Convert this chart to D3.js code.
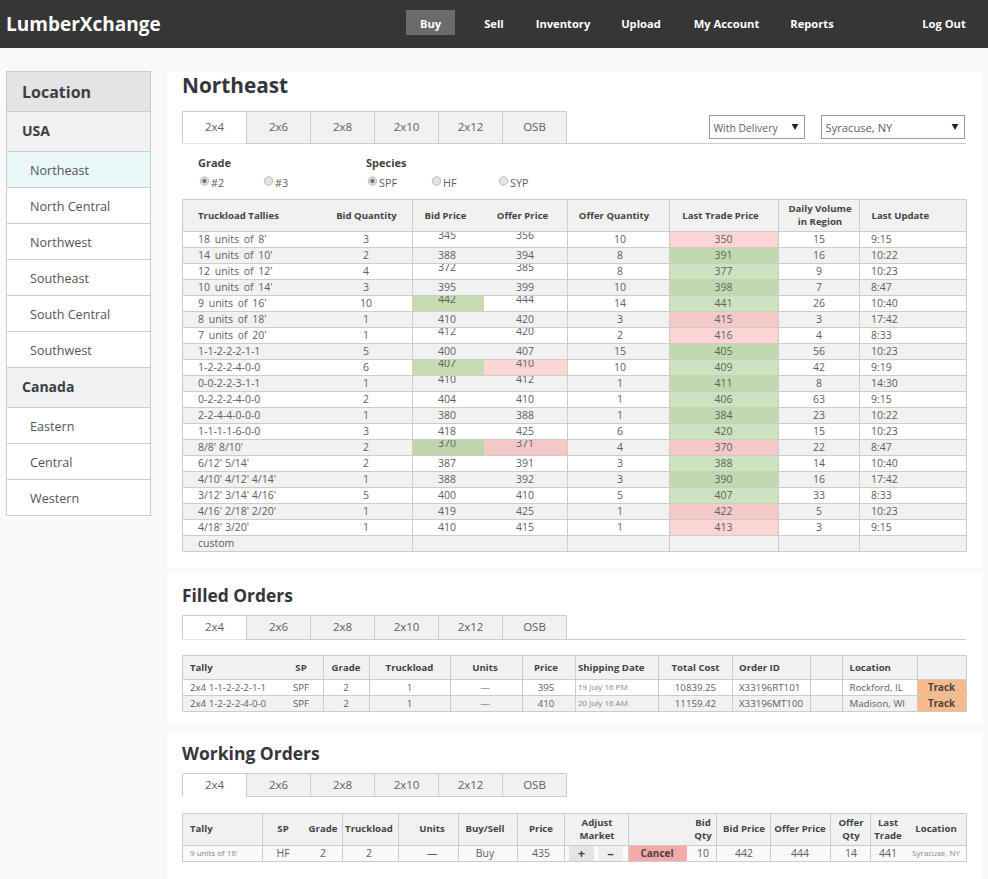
<!DOCTYPE html>
<html>
<head>
<meta charset="utf-8">
<title>LumberXchange</title>
<script src="https://cdn.jsdelivr.net/npm/d3@7"></script>
<style>
  html, body { margin: 0; padding: 0; background: #f9f9f9; overflow: hidden; }
  svg { display: block; font-family: "Open Sans", sans-serif; }
  text { fill: #606060; }
  .hd { font-size: 9.6px; font-weight: 700; fill: #444; }
  .cell { font-size: 10.5px; }
  .fcell { font-size: 9.7px; }
</style>
</head>
<body>
<div id="page"></div>
<script>
// nav + sidebar
const navItems = ["Buy", "Sell", "Inventory", "Upload", "My Account", "Reports", "Log Out"];
const sideItems = ["Location", "USA", "Northeast", "North Central", "Northwest", "Southeast", "South Central", "Southwest", "Canada", "Eastern", "Central", "Western"];
const sideKinds = ["top", "group", "sel", "item", "item", "item", "item", "item", "group", "item", "item", "item"];
const tabNames = ["2x4", "2x6", "2x8", "2x10", "2x12", "OSB"];

// Northeast table
const tallies = ["18 units of 8'", "14 units of 10'", "12 units of 12'", "10 units of 14'", "9 units of 16'", "8 units of 18'", "7 units of 20'", "1-1-2-2-2-1-1", "1-2-2-2-4-0-0", "0-0-2-2-3-1-1", "0-2-2-2-4-0-0", "2-2-4-4-0-0-0", "1-1-1-1-6-0-0", "8/8' 8/10'", "6/12' 5/14'", "4/10' 4/12' 4/14'", "3/12' 3/14' 4/16'", "4/16' 2/18' 2/20'", "4/18' 3/20'", "custom"];
const bidQty = [3, 2, 4, 3, 10, 1, 1, 5, 6, 1, 2, 1, 3, 2, 2, 1, 5, 1, 1, null];
const bidPrice = [345, 388, 372, 395, 442, 410, 412, 400, 407, 410, 404, 380, 418, 370, 387, 388, 400, 419, 410, null];
const offerPrice = [356, 394, 385, 399, 444, 420, 420, 407, 410, 412, 410, 388, 425, 371, 391, 392, 410, 425, 415, null];
const offerQty = [10, 8, 8, 10, 14, 3, 2, 15, 10, 1, 1, 1, 6, 4, 3, 3, 5, 1, 1, null];
const lastTrade = [350, 391, 377, 398, 441, 415, 416, 405, 409, 411, 406, 384, 420, 370, 388, 390, 407, 422, 413, null];
const lastMove = ["d", "u", "u", "u", "u", "d", "d", "u", "u", "u", "u", "u", "u", "d", "u", "u", "u", "d", "d", null];
const dailyVolume = [15, 16, 9, 7, 26, 3, 4, 56, 42, 8, 63, 23, 15, 22, 14, 16, 33, 5, 3, null];
const lastUpdate = ["9:15", "10:22", "10:23", "8:47", "10:40", "17:42", "8:33", "10:23", "9:19", "14:30", "9:15", "10:22", "10:23", "8:47", "10:40", "17:42", "8:33", "10:23", "9:15", null];
const bidHighlightRows = [4, 8, 13];
const offerHighlightRows = [8, 13];
const raisedPriceRows = [0, 2, 4, 6, 8, 9, 13];

// Filled orders
const filledTally = ["2x4 1-1-2-2-2-1-1", "2x4 1-2-2-2-4-0-0"];
const filledSp = ["SPF", "SPF"];
const filledGrade = [2, 2];
const filledTruckload = [1, 1];
const filledUnits = ["—", "—"];
const filledPrice = [395, 410];
const filledShip = ["19 July 16 PM", "20 July 16 AM"];
const filledCost = ["10839.25", "11159.42"];
const filledId = ["X33196RT101", "X33196MT100"];
const filledLoc = ["Rockford, IL", "Madison, WI"];

// Working orders
const workRow = ["9 units of 16'", "HF", "2", "2", "—", "Buy", "435", "", "", "10", "442", "444", "14", "441", "Syracuse, NY"];
const workHeads = [["Tally"], ["SP"], ["Grade"], ["Truckload"], ["Units"], ["Buy/Sell"], ["Price"], ["Adjust", "Market"], [""], ["Bid", "Qty"], ["Bid Price"], ["Offer Price"], ["Offer", "Qty"], ["Last", "Trade"], ["Location"]];

const width = 988, height = 879;
const lineCol = "#cccccc", headBg = "#f1f1f1", altBg = "#f1f1f1";

var svg = d3.select("#page").append("svg").attr("width", width).attr("height", height);
svg.append("rect").attr("width", width).attr("height", height).attr("fill", "#f9f9f9");

function put(g, x, y, str, opts) {
    opts = opts || {};
    return g.append("text")
        .attr("x", x)
        .attr("y", y)
        .attr("dy", "0.35em")
        .attr("text-anchor", opts.anchor || "start")
        .attr("class", opts.cls || null)
        .style("font-size", opts.size ? opts.size + "px" : null)
        .style("font-weight", opts.weight || null)
        .style("fill", opts.fill || null)
        .text(str);
}

function hline(g, x1, x2, y) {
    g.append("line").attr("x1", x1).attr("x2", x2).attr("y1", y).attr("y2", y).attr("stroke", lineCol);
}
function vline(g, x, y1, y2) {
    g.append("line").attr("x1", x).attr("x2", x).attr("y1", y1).attr("y2", y2).attr("stroke", lineCol);
}

// ---- top bar ----
var topBar = svg.append("g");
topBar.append("rect").attr("width", width).attr("height", 48).attr("fill", "#363636");
put(topBar, 6, 24, "LumberXchange", {size: 19, weight: 700, fill: "#fff"});
topBar.append("rect").attr("x", 406).attr("y", 10).attr("width", 49).attr("height", 25).attr("fill", "#6b6b6b");
var navX = d3.scaleOrdinal().domain(navItems).range([430.5, 494, 563, 641, 726.5, 812, 944]);
navItems.forEach(function(d) {
    put(topBar, navX(d), 23.6, d, {anchor: "middle", size: 11.2, weight: 700, fill: "#fff"});
});

// ---- sidebar ----
var side = svg.append("g");
var sideHeights = {top: 40, group: 40, sel: 36, item: 36};
var sideFill = {top: "#e4e4e4", group: "#f1f1f1", sel: "#e9f7f9", item: "#fff"};
var sy = 71;
sideItems.forEach(function(d, i) {
    var kind = sideKinds[i], h = sideHeights[kind];
    side.append("rect").attr("x", 6.5).attr("y", sy + 0.5).attr("width", 144).attr("height", h)
        .attr("fill", sideFill[kind]).attr("stroke", lineCol);
    if (kind == "top") put(side, 22, sy + 21, d, {size: 16, weight: 700, fill: "#3a3f47"});
    else if (kind == "group") put(side, 22, sy + 20, d, {size: 14, weight: 700, fill: "#3a3f47"});
    else put(side, 30, sy + 20, d, {size: 12.6, fill: "#555"});
    sy += h;
});

// ---- panels ----
[[71, 497], [573, 150], [733, 146]].forEach(function(p) {
    svg.append("rect").attr("x", 167).attr("y", p[0]).attr("width", 816).attr("height", p[1]).attr("fill", "#fff");
});

function drawTabs(y0, y1, lineEnd) {
    var g = svg.append("g");
    var tabX = d3.scaleBand().domain(tabNames).range([182.5, 566.5]);
    if (lineEnd) hline(g, 182.5, lineEnd, y1);
    tabNames.forEach(function(t, i) {
        g.append("rect").attr("x", tabX(t)).attr("y", y0).attr("width", tabX.bandwidth()).attr("height", y1 - y0)
            .attr("fill", i == 0 ? "#fff" : "#f1f1f1").attr("stroke", "none");
        g.append("path")
            .attr("d", i == 0
                ? `M${tabX(t)},${y1}V${y0}H${tabX(t) + tabX.bandwidth()}V${y1}`
                : `M${tabX(t)},${y1}V${y0}H${tabX(t) + tabX.bandwidth()}V${y1}H${tabX(t)}`)
            .attr("fill", "none").attr("stroke", lineCol);
        put(g, tabX(t) + tabX.bandwidth() / 2, (y0 + y1) / 2 - 0.4, t, {anchor: "middle", size: 11.5});
    });
}

// ---- Northeast ----
var ne = svg.append("g");
put(ne, 182, 85.6, "Northeast", {size: 20.8, weight: 700, fill: "#33373d"});
drawTabs(111.5, 143.5, 966);

function drawSelect(x, w, label) {
    var g = svg.append("g");
    g.append("rect").attr("x", x).attr("y", 115.5).attr("width", w).attr("height", 23).attr("fill", "#fff").attr("stroke", "#999");
    put(g, x + 4, 128, label, {size: x < 800 ? 10.4 : 11.2});
    g.append("path")
        .attr("d", d3.symbol(d3.symbolTriangle, 20)())
        .attr("transform", `translate(${x + w - 9.5},126) rotate(180)`)
        .attr("fill", "#222");
}
drawSelect(709.5, 95, "With Delivery");
drawSelect(821.5, 143, "Syracuse, NY");

var radios = svg.append("g");
put(radios, 198, 163, "Grade", {size: 11, weight: 700, fill: "#444"});
put(radios, 366, 163, "Species", {size: 11, weight: 700, fill: "#444"});
[[204.5, "#2", true], [268.5, "#3", false], [372.5, "SPF", true], [436.5, "HF", false], [503.5, "SYP", false]].forEach(function(r) {
    radios.append("circle").attr("cx", r[0]).attr("cy", 181).attr("r", 4.2).attr("fill", "#e2e2e2").attr("stroke", "#bbb");
    if (r[2]) radios.append("circle").attr("cx", r[0]).attr("cy", 181).attr("r", 2.2).attr("fill", "#777");
    put(radios, r[0] + 6.5, 183, r[1], {size: 10.8});
});

var main = svg.append("g");
var rowY = d3.scaleBand().domain(d3.range(tallies.length)).range([231.5, 551.5]);
var mainEdges = [182.5, 412.5, 567.5, 669.5, 778.5, 859.5, 966.5];
var mainX = d3.scaleOrdinal()
    .domain(["tally", "bidQty", "bid", "offer", "offerQty", "last", "vol", "update"])
    .range([198, 366, 447, 525, 620, 723.5, 819, 871]);

main.append("rect").attr("x", 182.5).attr("y", 199.5).attr("width", 784).attr("height", 32).attr("fill", headBg);
tallies.forEach(function(t, i) {
    var y = rowY(i), h = rowY.bandwidth(), mid = y + h / 2;
    if (i % 2 == 1) main.append("rect").attr("x", 182.5).attr("y", y).attr("width", 784).attr("height", h).attr("fill", altBg);
    if (bidHighlightRows.includes(i))
        main.append("rect").attr("x", 412.5).attr("y", y).attr("width", 71.5).attr("height", h).attr("fill", i % 2 ? "#bfd6ac" : "#c5dcb2");
    if (offerHighlightRows.includes(i))
        main.append("rect").attr("x", 484).attr("y", y).attr("width", 83.5).attr("height", h).attr("fill", i % 2 ? "#f5c8c8" : "#fdd5d5");
    if (lastMove[i]) {
        var c = lastMove[i] == "u" ? (i % 2 ? "#c2d9b0" : "#cde3bf") : (i % 2 ? "#f6c9c9" : "#fdd5d5");
        main.append("rect").attr("x", 669.5).attr("y", y).attr("width", 109).attr("height", h).attr("fill", c);
    }
    var label = put(main, mainX("tally"), mid, t, {cls: "cell"});
    if (t.includes("units")) label.style("word-spacing", "2px");
    if (bidQty[i] == null) return;
    var pMid = raisedPriceRows.includes(i) ? mid - 4.5 : mid;
    put(main, mainX("bidQty"), mid, bidQty[i], {cls: "cell", anchor: "middle"});
    put(main, mainX("bid"), pMid, bidPrice[i], {cls: "cell", anchor: "middle"});
    put(main, mainX("offer"), pMid, offerPrice[i], {cls: "cell", anchor: "middle"});
    put(main, mainX("offerQty"), mid, offerQty[i], {cls: "cell", anchor: "middle"});
    put(main, mainX("last"), mid, lastTrade[i], {cls: "cell", anchor: "middle"});
    put(main, mainX("vol"), mid, dailyVolume[i], {cls: "cell", anchor: "middle"});
    put(main, mainX("update"), mid, lastUpdate[i], {cls: "cell"});
});
hline(main, 182.5, 966.5, 199.5);
d3.range(tallies.length + 1).forEach(function(i) {
    hline(main, 182.5, 966.5, 231.5 + i * rowY.step());
});
mainEdges.forEach(function(x) { vline(main, x, 199.5, 551.5); });

put(main, 198, 215.5, "Truckload Tallies", {cls: "hd"});
put(main, 366.5, 215.5, "Bid Quantity", {cls: "hd", anchor: "middle"});
put(main, 445.5, 215.5, "Bid Price", {cls: "hd", anchor: "middle"});
put(main, 522.5, 215.5, "Offer Price", {cls: "hd", anchor: "middle"});
put(main, 614, 215.5, "Offer Quantity", {cls: "hd", anchor: "middle"});
put(main, 720.5, 215.5, "Last Trade Price", {cls: "hd", anchor: "middle"});
put(main, 820, 209, "Daily Volume", {cls: "hd", anchor: "middle"});
put(main, 820, 222, "in Region", {cls: "hd", anchor: "middle"});
put(main, 871.5, 215.5, "Last Update", {cls: "hd"});

// ---- Filled Orders ----
var fo = svg.append("g");
put(fo, 182, 596, "Filled Orders", {size: 17.4, weight: 700, fill: "#33373d"});
drawTabs(615.5, 639.5, 966);

var filledEdges = [182.5, 323.5, 369.5, 450.5, 522.5, 575.5, 658.5, 732.5, 810.5, 842.5, 917.5, 966.5];
var filledRowY = d3.scaleBand().domain(d3.range(filledTally.length)).range([679.5, 711.5]);
fo.append("rect").attr("x", 182.5).attr("y", 655.5).attr("width", 784).attr("height", 24).attr("fill", headBg);
fo.append("rect").attr("x", 182.5).attr("y", filledRowY(1)).attr("width", 784).attr("height", 16).attr("fill", altBg);
fo.append("rect").attr("x", 917.5).attr("y", 679.5).attr("width", 49).attr("height", 32).attr("fill", "#f9b98a");
[655.5, 679.5, 695.5, 711.5].forEach(function(y) { hline(fo, 182.5, 966.5, y); });
filledEdges.forEach(function(x) { vline(fo, x, 655.5, 711.5); });

[["Tally", 190, "start"], ["SP", 301, "middle"], ["Grade", 346, "middle"], ["Truckload", 409.5, "middle"], ["Units", 485, "middle"],
 ["Price", 546, "middle"], ["Shipping Date", 578, "start"], ["Total Cost", 695.5, "middle"], ["Order ID", 739, "start"], ["Location", 849.5, "start"]].forEach(function(h) {
    put(fo, h[1], 667.5, h[0], {cls: "hd", anchor: h[2]});
});
filledTally.forEach(function(t, i) {
    var mid = filledRowY(i) + 8;
    put(fo, 190, mid, t, {cls: "fcell"});
    put(fo, 301, mid, filledSp[i], {cls: "fcell", anchor: "middle"});
    put(fo, 346, mid, filledGrade[i], {cls: "fcell", anchor: "middle"});
    put(fo, 409.5, mid, filledTruckload[i], {cls: "fcell", anchor: "middle"});
    put(fo, 485, mid, filledUnits[i], {cls: "fcell", anchor: "middle"});
    put(fo, 546, mid, filledPrice[i], {cls: "fcell", anchor: "middle"});
    put(fo, 578, mid, filledShip[i], {size: 8, fill: "#888"});
    put(fo, 695.5, mid, filledCost[i], {cls: "fcell", anchor: "middle"});
    put(fo, 739, mid, filledId[i], {cls: "fcell"});
    put(fo, 849.5, mid, filledLoc[i], {cls: "fcell"});
    put(fo, 941.5, mid, "Track", {anchor: "middle", size: 9.7, weight: 700, fill: "#444"});
});

// ---- Working Orders ----
var wo = svg.append("g");
put(wo, 182, 754, "Working Orders", {size: 17.5, weight: 700, fill: "#33373d"});
drawTabs(773.5, 796.5, null);

var workEdges = [182.5, 262.5, 342.5, 398.5, 458.5, 517.5, 564.5, 628.5, 716.5, 770.5, 830.5, 870.5, 966.5];
var workX = d3.scaleOrdinal().domain(d3.range(workHeads.length))
    .range([190, 283, 323, 369, 432, 485, 541, 597, 657, 703, 744, 800, 851, 888, 936]);
wo.append("rect").attr("x", 182.5).attr("y", 813.5).attr("width", 784).attr("height", 32).attr("fill", headBg);
wo.append("rect").attr("x", 182.5).attr("y", 845.5).attr("width", 784).attr("height", 16).attr("fill", "#f9f9f9");
wo.append("rect").attr("x", 569).attr("y", 846).attr("width", 25).attr("height", 15).attr("fill", "#e4e4e4");
wo.append("rect").attr("x", 598).attr("y", 846).attr("width", 25).attr("height", 15).attr("fill", "#eeeeee");
wo.append("rect").attr("x", 628.5).attr("y", 846).attr("width", 58.5).attr("height", 15).attr("fill", "#f7a8a8");
[813.5, 845.5, 861.5].forEach(function(y) { hline(wo, 182.5, 966.5, y); });
workEdges.forEach(function(x) { vline(wo, x, 813.5, 861.5); });

workHeads.forEach(function(lines, i) {
    var anchor = i == 0 ? "start" : "middle";
    if (lines.length == 1) put(wo, workX(i), 829, lines[0], {cls: "hd", anchor: anchor});
    else lines.forEach(function(l, j) { put(wo, workX(i), 823 + j * 12.5, l, {cls: "hd", anchor: anchor}); });
});
workRow.forEach(function(v, i) {
    if (v === "") return;
    var small = i == 0 || i == 14;
    put(wo, workX(i), 853.5, v, {size: small ? 8 : 10.5, fill: small ? "#888" : null, anchor: i == 0 ? "start" : "middle"});
});
put(wo, 581.5, 853.5, "+", {anchor: "middle", size: 13, weight: 700, fill: "#444"});
put(wo, 610.5, 853.5, "–", {anchor: "middle", size: 13, weight: 700, fill: "#444"});
put(wo, 657, 853.5, "Cancel", {anchor: "middle", size: 10, weight: 700, fill: "#444"});
</script>
</body>
</html>
